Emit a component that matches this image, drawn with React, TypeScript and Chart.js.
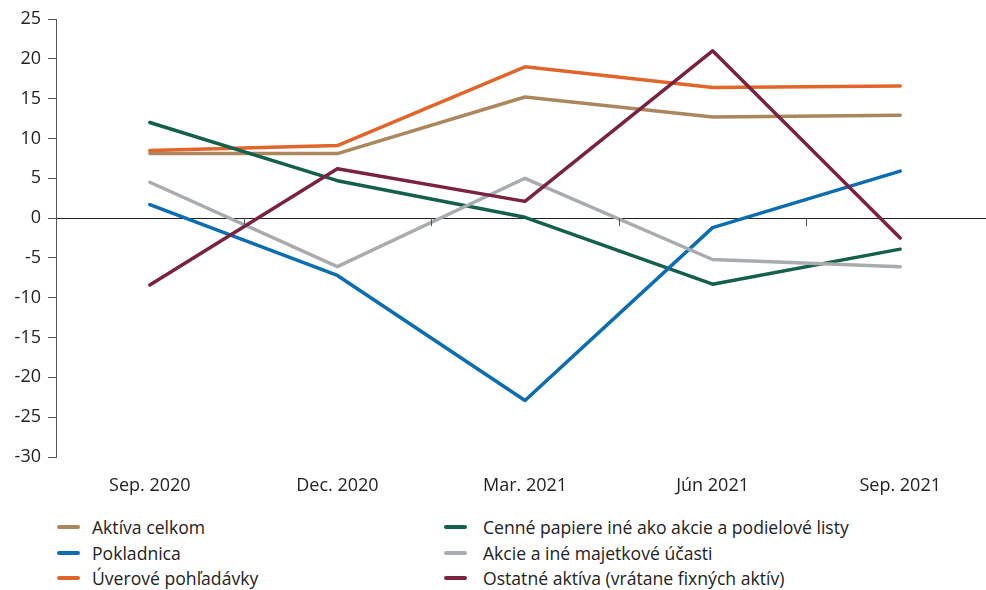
import React, { useEffect, useRef } from "react";
import { Chart, registerables } from "chart.js";

Chart.register(...registerables);

const categories = ["Sep. 2020", "Dec. 2020", "Mar. 2021", "Jún 2021", "Sep. 2021"];

const aktivaCelkom = [8.1, 8.1, 15.2, 12.7, 12.9];
const pokladnica = [1.7, -7.2, -22.9, -1.2, 5.9];
const uverovePohladavky = [8.5, 9.1, 19.0, 16.4, 16.6];
const cennePapiere = [12.0, 4.7, 0.1, -8.3, -3.9];
const akcie = [4.5, -6.1, 5.0, -5.2, -6.1];
const ostatneAktiva = [-8.4, 6.2, 2.1, 21.0, -2.5];

const yMin = -30;
const yMax = 25;
const yStep = 5;

const series = [
  { label: "Aktíva celkom", data: aktivaCelkom, color: "#AB875E", order: 5 },
  { label: "Pokladnica", data: pokladnica, color: "#0C6DB1", order: 2 },
  { label: "Úverové pohľadávky", data: uverovePohladavky, color: "#E0662B", order: 4 },
  { label: "Cenné papiere iné ako akcie a podielové listy", data: cennePapiere, color: "#15604D", order: 3 },
  { label: "Akcie a iné majetkové účasti", data: akcie, color: "#A8ACAE", order: 1 },
  { label: "Ostatné aktíva (vrátane fixných aktív)", data: ostatneAktiva, color: "#7A2242", order: 0 },
];

const FONT = "'Open Sans', sans-serif";

const zeroTicksPlugin = {
  id: "zeroTicks",
  afterDatasetsDraw(chart: any) {
    const x = chart.scales.x;
    const y = chart.scales.y;
    const ctx = chart.ctx;
    const y0 = y.getPixelForValue(0);
    ctx.save();
    ctx.strokeStyle = "#555";
    ctx.lineWidth = 1;
    for (let i = 0; i < categories.length - 1; i++) {
      const xb = Math.round((x.getPixelForValue(i) + x.getPixelForValue(i + 1)) / 2) + 0.5;
      ctx.beginPath();
      ctx.moveTo(xb, y0);
      ctx.lineTo(xb, y0 + 8);
      ctx.stroke();
    }
    ctx.restore();
  },
};

export default function App() {
  const ref = useRef<HTMLCanvasElement | null>(null);

  useEffect(() => {
    if (!ref.current) return;
    const chart = new Chart(ref.current, {
      type: "line",
      data: {
        labels: categories,
        datasets: series.map((s) => ({
          label: s.label,
          data: s.data,
          borderColor: s.color,
          backgroundColor: s.color,
          borderWidth: 3.5,
          pointRadius: 0,
          tension: 0,
          order: s.order,
          borderCapStyle: "round" as const,
          borderJoinStyle: "round" as const,
        })),
      },
      options: {
        responsive: false,
        maintainAspectRatio: false,
        animation: false,
        layout: { padding: { top: 19, left: 0, right: 0, bottom: 0 } },
        plugins: {
          legend: { display: false },
          tooltip: { enabled: false },
        },
        scales: {
          x: {
            type: "category",
            offset: true,
            grid: { display: false },
            border: { display: false },
            ticks: {
              color: "#222",
              font: { family: FONT, size: 18 },
              padding: 10,
              maxRotation: 0,
              autoSkip: false,
            },
            afterFit(scale: any) {
              scale.height = 43;
            },
          },
          y: {
            min: yMin,
            max: yMax,
            grid: {
              drawOnChartArea: true,
              drawTicks: true,
              tickLength: 8,
              color: (c: any) => (c.tick && c.tick.value === 0 ? "#222" : "rgba(0,0,0,0)"),
              tickColor: "#555",
              lineWidth: 1,
            },
            border: { display: true, color: "#555", width: 1 },
            ticks: {
              stepSize: yStep,
              color: "#222",
              font: { family: FONT, size: 18 },
              padding: 7,
            },
            afterFit(scale: any) {
              scale.width = 56;
            },
          },
        },
      },
      plugins: [zeroTicksPlugin],
    });
    return () => chart.destroy();
  }, []);

  const col1 = series.slice(0, 3);
  const col2 = series.slice(3);
  const legendItem = (s: any, left: number, top: number, textLeft: number) => (
    <div key={s.label}>
      <div
        style={{
          position: "absolute",
          left,
          top: top - 2,
          width: 23,
          height: 4,
          borderRadius: 2,
          background: s.color,
        }}
      />
      <div
        style={{
          position: "absolute",
          left: textLeft,
          top: top - 13,
          height: 26,
          lineHeight: "26px",
          fontFamily: FONT,
          fontSize: 17.6,
          color: "#222",
          whiteSpace: "nowrap",
        }}
      >
        {s.label}
      </div>
    </div>
  );

  return (
    <div
      style={{
        position: "fixed",
        left: 0,
        top: 0,
        width: 986,
        height: 590,
        overflow: "hidden",
        background: "#fff",
      }}
    >
      <canvas
        ref={ref}
        width={994}
        height={500}
        style={{ position: "absolute", left: 0, top: 0, width: 994, height: 500 }}
      />
      {col1.map((s, i) => legendItem(s, 57, 527 + i * 25.5, 92))}
      {col2.map((s, i) => legendItem(s, 444, 527 + i * 25.5, 483))}
    </div>
  );
}
